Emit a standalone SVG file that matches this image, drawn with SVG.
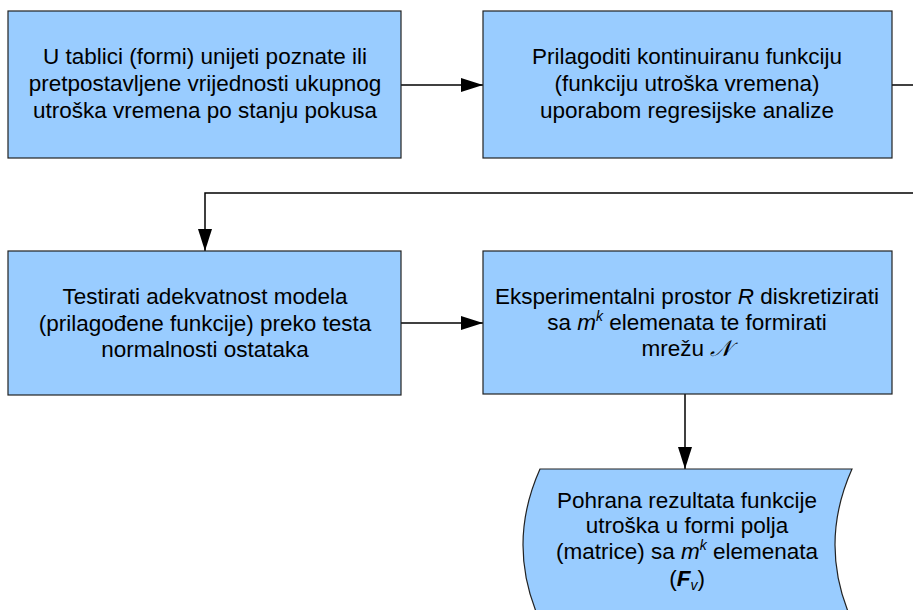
<svg xmlns="http://www.w3.org/2000/svg" width="913" height="610" viewBox="0 0 913 610">
<defs>
<style>
.box{fill:#99ccff;stroke:#222;stroke-width:1.2}
.t{font-family:"Liberation Sans",Arial,sans-serif;font-size:22.5px;fill:#000;text-anchor:middle}
.c{fill:none;stroke:#000;stroke-width:1.5}
</style>
<marker id="ah" markerWidth="22" markerHeight="14" refX="22" refY="7" orient="auto" markerUnits="userSpaceOnUse">
<path d="M0,0 L22,7 L0,14 Z" fill="#000"/>
</marker>
</defs>
<rect width="913" height="610" fill="#fff"/>
<g id="connectors">
<path class="c" d="M401,85 H483" marker-end="url(#ah)"/>
<path class="c" d="M892,85 H913"/>
<path class="c" d="M913,193 H205 V251" marker-end="url(#ah)"/>
<path class="c" d="M401,323 H483" marker-end="url(#ah)"/>
<path class="c" d="M685,394 V469" marker-end="url(#ah)"/>
</g>
<g id="n1">
<rect class="box" x="8" y="11" width="393" height="147"/>
<text class="t" x="205" y="64">U tablici (formi) unijeti poznate ili</text>
<text class="t" x="205" y="91">pretpostavljene vrijednosti ukupnog</text>
<text class="t" x="205" y="118">utroška vremena po stanju pokusa</text>
</g>
<g id="n2">
<rect class="box" x="483" y="11" width="409" height="147"/>
<text class="t" x="687" y="64">Prilagoditi kontinuiranu funkciju</text>
<text class="t" x="687" y="91">(funkciju utroška vremena)</text>
<text class="t" x="687" y="118">uporabom regresijske analize</text>
</g>
<g id="n3">
<rect class="box" x="8" y="251" width="393" height="144"/>
<text class="t" x="205" y="304">Testirati adekvatnost modela</text>
<text class="t" x="205" y="331">(prilagođene funkcije) preko testa</text>
<text class="t" x="205" y="357">normalnosti ostataka</text>
</g>
<g id="n4">
<rect class="box" x="483" y="251" width="409" height="143"/>
<text class="t" x="687" y="304">Eksperimentalni prostor <tspan font-style="italic">R</tspan> diskretizirati</text>
<text class="t" x="687" y="330">sa <tspan font-style="italic">m</tspan><tspan font-style="italic" font-size="14" dy="-9">k</tspan><tspan dy="9"> elemenata te formirati</tspan></text>
<text class="t" x="687" y="356">mrežu <tspan font-family="'DejaVu Serif','DejaVu Sans',serif" font-style="italic">𝒩</tspan></text>
</g>
<g id="n5">
<path class="box" d="M540,469 H852 Q818,545 852,621 H540 Q506,545 540,469 Z"/>
<text class="t" x="687" y="508">Pohrana rezultata funkcije</text>
<text class="t" x="687" y="533">utroška u formi polja</text>
<text class="t" x="687" y="559">(matrice) sa <tspan font-style="italic">m</tspan><tspan font-style="italic" font-size="14" dy="-9">k</tspan><tspan dy="9"> elemenata</tspan></text>
<text class="t" x="687" y="586">(<tspan font-weight="bold" font-style="italic">F</tspan><tspan font-style="italic" font-size="14" dy="4">v</tspan><tspan dy="-4">)</tspan></text>
</g>
</svg>
